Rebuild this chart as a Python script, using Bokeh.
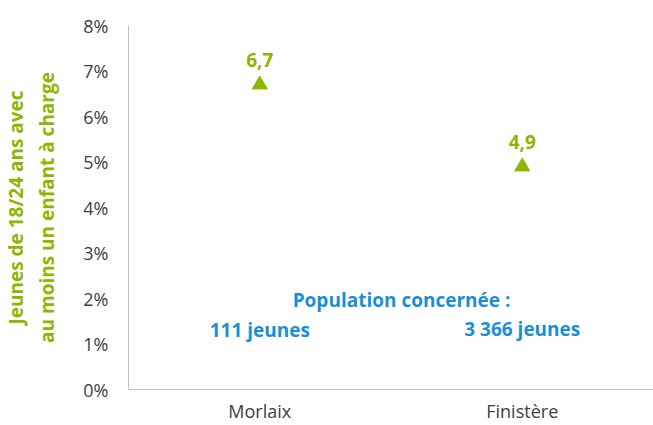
from bokeh.plotting import figure
from bokeh.models import FactorRange, Range1d, PrintfTickFormatter, ColumnDataSource
from bokeh.core.properties import value
from bokeh.embed import file_html
from bokeh.resources import INLINE

categories = ["Morlaix", "Finistère"]
values = [6.7, 4.9]
value_labels = ["6,7", "4,9"]
population_labels = ["111 jeunes", "3 366 jeunes"]
population_y = [1.31, 1.34]
population_title = "Population concernée :"
y_ticks = [0, 1, 2, 3, 4, 5, 6, 7, 8]
y_label = "Jeunes de 18/24 ans avec\nau moins un enfant à charge"

GREEN = "#8DB600"
BLUE = "#1A8FD6"
FONT = "Open Sans"

p = figure(width=653, height=425, x_range=FactorRange(*categories),
           y_range=Range1d(0, 8), output_backend="svg", toolbar_location=None,
           min_border_left=127, min_border_right=0, min_border_top=25,
           min_border_bottom=36)
p.outline_line_color = None
p.xgrid.grid_line_color = None
p.ygrid.grid_line_color = None
p.background_fill_color = "white"
p.border_fill_color = "white"

src = ColumnDataSource(dict(x=categories, y=values, lab=value_labels,
                            pop=population_labels, pop_y=population_y))
p.scatter("x", "y", source=src, marker="triangle", size=15,
          fill_color=GREEN, line_color=GREEN)
p.text("x", "y", text="lab", source=src, text_font=value(FONT),
       text_font_style="bold", text_font_size="19px", text_color=GREEN,
       text_align="center", text_baseline="bottom", y_offset=-18)
p.text("x", "pop_y", text="pop", source=src, text_font=value(FONT),
       text_font_style="bold", text_font_size="19px", text_color=BLUE,
       text_align="center", text_baseline="middle")
p.text(x=[1.04], y=[1.96], text=[population_title], text_font=value(FONT),
       text_font_style="bold", text_font_size="19px", text_color=BLUE,
       text_align="center", text_baseline="middle")

p.yaxis.ticker = y_ticks
p.yaxis.formatter = PrintfTickFormatter(format="%d%%")
p.yaxis.axis_label = y_label
p.yaxis.axis_label_text_font = FONT
p.yaxis.axis_label_text_font_style = "bold"
p.yaxis.axis_label_text_font_size = "19px"
p.yaxis.axis_label_text_color = GREEN
p.yaxis.axis_label_standoff = 20
for ax in (p.xaxis, p.yaxis):
    ax.major_label_text_font = FONT
    ax.major_label_text_font_size = "18px"
    ax.major_label_text_color = "#404040"
    ax.axis_line_color = "#BFBFBF"
    ax.major_tick_line_color = None
    ax.minor_tick_line_color = None
    ax.major_tick_out = 0
    ax.major_tick_in = 0
p.yaxis.major_label_standoff = 20
p.xaxis.major_label_standoff = 9

open("out.html", "w").write(file_html(p, INLINE))
